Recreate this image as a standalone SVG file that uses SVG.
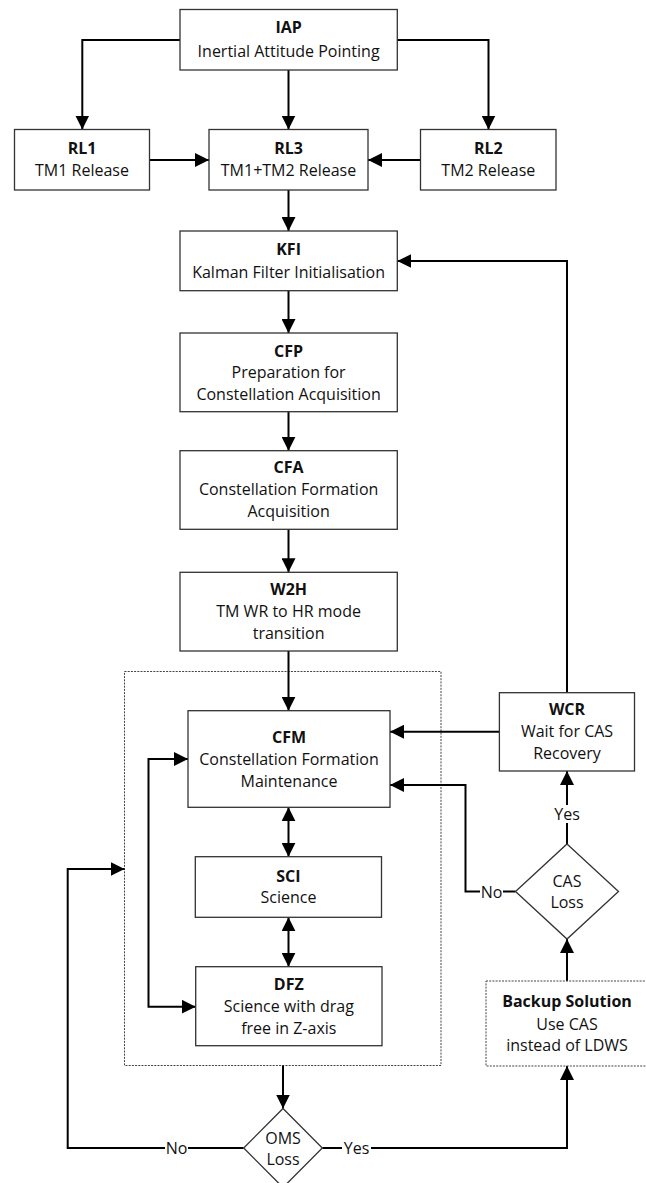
<svg xmlns="http://www.w3.org/2000/svg" width="646" height="1183" viewBox="0 0 646 1183">
  <style>
    .box { fill: #fff; stroke: #333; stroke-width: 1.3; }
    .grp { fill: none; stroke: #444; stroke-width: 1; stroke-dasharray: 2 1.2; }
    .dash { fill: #fff; stroke: #444; stroke-width: 1; stroke-dasharray: 2 1.2; }
    .c { fill: none; stroke: #000; stroke-width: 2; }
    .t { font-family: "Open Sans", "Liberation Sans", sans-serif; font-size: 16px; fill: #111; text-anchor: middle; }
    .b { font-weight: bold; }
    .lbg { fill: #fff; stroke: none; }
  </style>
  <defs>
    <marker id="arr" viewBox="0 0 14 14" markerWidth="14" markerHeight="14" refX="14" refY="7" orient="auto-start-reverse" markerUnits="userSpaceOnUse">
      <path d="M0,0 L14,7 L0,14 Z" fill="#000"/>
    </marker>
  </defs>

  <rect fill="#fff" x="0" y="0" width="646" height="1183"/>

  <!-- dotted container around the science modes -->
  <rect id="science-group" class="grp" x="124.5" y="671.5" width="316.5" height="394"/>

  <g id="connectors">
    <path class="c" d="M180,40 H82.3 V129.5" marker-end="url(#arr)"/>
    <path class="c" d="M288.5,70 V129.5" marker-end="url(#arr)"/>
    <path class="c" d="M397,40 H488.5 V129.5" marker-end="url(#arr)"/>
    <path class="c" d="M149.5,160 H209" marker-end="url(#arr)"/>
    <path class="c" d="M420.5,160 H368" marker-end="url(#arr)"/>
    <path class="c" d="M288.5,190 V231" marker-end="url(#arr)"/>
    <path class="c" d="M288.5,290.7 V333" marker-end="url(#arr)"/>
    <path class="c" d="M288.5,411.7 V450.7" marker-end="url(#arr)"/>
    <path class="c" d="M288.5,529.3 V572.3" marker-end="url(#arr)"/>
    <path class="c" d="M288.5,651 V710.7" marker-end="url(#arr)"/>
    <path class="c" d="M567,692.7 V261 H397.3" marker-end="url(#arr)"/>
    <path class="c" d="M499.4,731.7 H390" marker-end="url(#arr)"/>
    <path class="c" d="M288.5,807.3 V856.7" marker-start="url(#arr)" marker-end="url(#arr)"/>
    <path class="c" d="M288.5,917.3 V966.7" marker-start="url(#arr)" marker-end="url(#arr)"/>
    <path class="c" d="M188,759 H148.5 V1006.7 H195.7" marker-start="url(#arr)" marker-end="url(#arr)"/>
    <path class="c" d="M283,1065.5 V1108.5" marker-end="url(#arr)"/>
    <path class="c" d="M243.7,1148 H67.7 V869 H124.5" marker-end="url(#arr)"/>
    <path class="c" d="M322.3,1148 H567 V1066" marker-end="url(#arr)"/>
    <path class="c" d="M567,844 V771" marker-end="url(#arr)"/>
    <path class="c" d="M515.5,891.5 H465.5 V785 H390" marker-end="url(#arr)"/>
    <path class="c" d="M567,981 V939" marker-end="url(#arr)"/>

    <!-- branch labels -->
    <rect class="lbg" x="480" y="883" width="23" height="17"/>
    <text class="t" x="491.5" y="897.5">No</text>
    <rect class="lbg" x="553" y="805" width="28" height="18"/>
    <text class="t" x="567" y="820">Yes</text>
    <rect class="lbg" x="165" y="1139" width="23" height="17"/>
    <text class="t" x="176.5" y="1154">No</text>
    <rect class="lbg" x="342" y="1139" width="29" height="17"/>
    <text class="t" x="356.5" y="1154">Yes</text>
  </g>

  <g id="IAP">
    <rect class="box" x="180" y="9.5" width="217.3" height="60.5"/>
    <text class="t b" x="288.6" y="33.3">IAP</text>
    <text class="t" x="288.6" y="56.7">Inertial Attitude Pointing</text>
  </g>
  <g id="RL1">
    <rect class="box" x="14.5" y="129.5" width="135" height="60.5"/>
    <text class="t b" x="82" y="154">RL1</text>
    <text class="t" x="82" y="176">TM1 Release</text>
  </g>
  <g id="RL3">
    <rect class="box" x="209" y="129.5" width="159" height="60.5"/>
    <text class="t b" x="288.5" y="154">RL3</text>
    <text class="t" x="288.5" y="176">TM1+TM2 Release</text>
  </g>
  <g id="RL2">
    <rect class="box" x="420.5" y="129.5" width="135.5" height="60.5"/>
    <text class="t b" x="488.3" y="154">RL2</text>
    <text class="t" x="488.3" y="176">TM2 Release</text>
  </g>
  <g id="KFI">
    <rect class="box" x="180" y="231" width="217.3" height="59.7"/>
    <text class="t b" x="288.6" y="255">KFI</text>
    <text class="t" x="288.6" y="277.7">Kalman Filter Initialisation</text>
  </g>
  <g id="CFP">
    <rect class="box" x="180" y="333" width="217.3" height="78.7"/>
    <text class="t b" x="288.6" y="356.5">CFP</text>
    <text class="t" x="288.6" y="378">Preparation for</text>
    <text class="t" x="288.6" y="399.5">Constellation Acquisition</text>
  </g>
  <g id="CFA">
    <rect class="box" x="180" y="450.7" width="217.3" height="78.6"/>
    <text class="t b" x="288.6" y="473">CFA</text>
    <text class="t" x="288.6" y="495">Constellation Formation</text>
    <text class="t" x="288.6" y="517">Acquisition</text>
  </g>
  <g id="W2H">
    <rect class="box" x="180" y="572.3" width="217.3" height="78.7"/>
    <text class="t b" x="288.6" y="595">W2H</text>
    <text class="t" x="288.6" y="617">TM WR to HR mode</text>
    <text class="t" x="288.6" y="639">transition</text>
  </g>
  <g id="CFM">
    <rect class="box" x="188" y="710.7" width="202" height="96.6"/>
    <text class="t b" x="289" y="743">CFM</text>
    <text class="t" x="289" y="765">Constellation Formation</text>
    <text class="t" x="289" y="787">Maintenance</text>
  </g>
  <g id="SCI">
    <rect class="box" x="195.3" y="856.7" width="186.2" height="60.6"/>
    <text class="t b" x="288.4" y="881.7">SCI</text>
    <text class="t" x="288.4" y="903.3">Science</text>
  </g>
  <g id="DFZ">
    <rect class="box" x="195.7" y="966.7" width="186.3" height="79"/>
    <text class="t b" x="288.8" y="990">DFZ</text>
    <text class="t" x="288.8" y="1012">Science with drag</text>
    <text class="t" x="288.8" y="1034">free in Z-axis</text>
  </g>
  <g id="WCR">
    <rect class="box" x="499.4" y="692.7" width="135.1" height="78.3"/>
    <text class="t b" x="567" y="715">WCR</text>
    <text class="t" x="567" y="737.3">Wait for CAS</text>
    <text class="t" x="567" y="759.3">Recovery</text>
  </g>
  <g id="CAS-loss">
    <polygon class="box" points="567,844 618.5,891.5 567,939 515.5,891.5"/>
    <text class="t" x="567" y="886.7">CAS</text>
    <text class="t" x="567" y="908.3">Loss</text>
  </g>
  <g id="backup-solution">
    <rect class="dash" x="486" y="981" width="162" height="85"/>
    <text class="t b" x="567" y="1007.3">Backup Solution</text>
    <text class="t" x="567" y="1029.5">Use CAS</text>
    <text class="t" x="567" y="1051">instead of LDWS</text>
  </g>
  <g id="OMS-loss">
    <polygon class="box" points="283,1108.5 322.3,1148 283,1187.5 243.7,1148"/>
    <text class="t" x="283" y="1144">OMS</text>
    <text class="t" x="283" y="1165">Loss</text>
  </g>
</svg>
